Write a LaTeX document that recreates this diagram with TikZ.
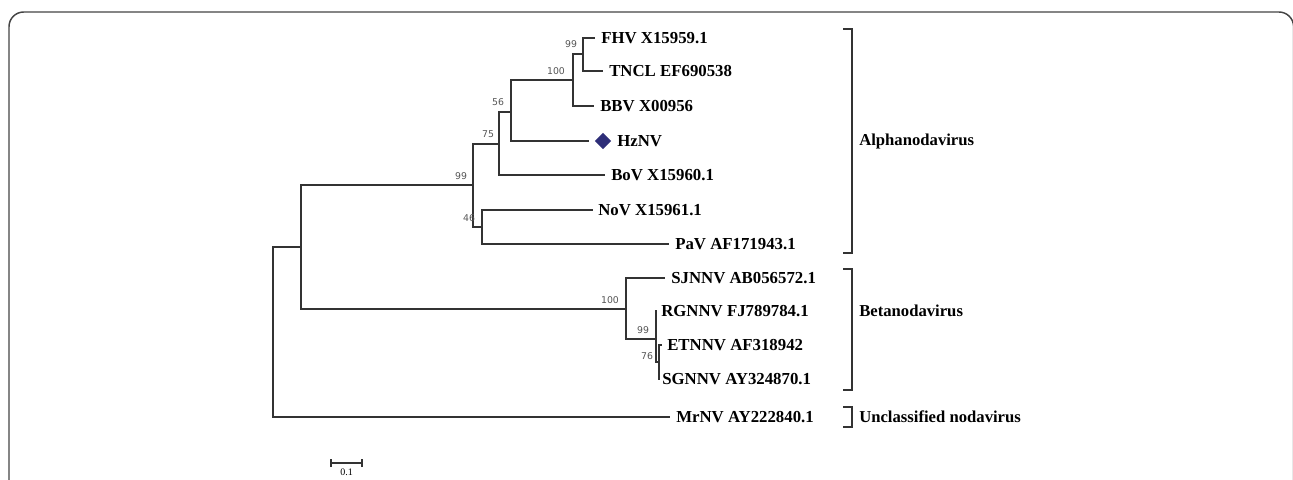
\documentclass[tikz,border=0pt]{standalone}
\usepackage{fontspec}
\setmainfont{Liberation Serif}
\newfontfamily\bsfont{DejaVu Sans}
\usetikzlibrary{shapes.geometric}
\definecolor{treeline}{HTML}{333333}
\definecolor{framecol}{HTML}{444444}
\definecolor{bscol}{HTML}{555555}
\definecolor{navy}{HTML}{2E2E78}
\tikzset{
  branch/.style={draw=treeline, line width=1pt},
  leaflab/.style={anchor=west, inner sep=0pt, font=\bfseries\fontsize{12.6}{14}\selectfont},
  bslab/.style={inner sep=0pt, text=bscol, font=\bsfont\fontsize{7}{8}\selectfont},
  grouplab/.style={anchor=west, inner sep=0pt, font=\bfseries\fontsize{12.5}{14}\selectfont},
  brkt/.style={draw=treeline, line width=1pt},
  marker/.style={diamond, fill=navy, draw=none, inner sep=0pt, minimum width=12.5pt, minimum height=12.5pt}
}
\begin{document}
\begin{tikzpicture}[x=0.75pt,y=-0.75pt]
\useasboundingbox (0,0) rectangle (1293,479);
% frame
\draw[framecol, line width=1.1pt, rounded corners=11pt] (9,12) rectangle (1293.6,520);

% internal nodes (x of vertical, y of incoming branch)
\coordinate (root) at (273,332);
\coordinate (nAB) at (301,247);
\coordinate (nA99) at (473,185);
\coordinate (n75) at (499,144);
\coordinate (n56) at (511,112);
\coordinate (n100) at (573,80);
\coordinate (n99a) at (583,54);
\coordinate (n46) at (482,227);
\coordinate (nB100) at (626,309);
\coordinate (nB99) at (656,339);
\coordinate (nB76) at (659,362);

% leaf tips
\coordinate (tFHV) at (595,38);
\coordinate (tTNCL) at (603,71);
\coordinate (tBBV) at (594,106);
\coordinate (tHz) at (589,141);
\coordinate (tBoV) at (605,175);
\coordinate (tNoV) at (593,210);
\coordinate (tPaV) at (669,244);
\coordinate (tSJ) at (665,278);
\coordinate (tRG) at (656.5,311);
\coordinate (tET) at (662,345);
\coordinate (tSG) at (659.5,379);
\coordinate (tMr) at (670,417);

% leaf labels
\node[leaflab] (FHV) at (601,38) {FHV X15959.1};
\node[leaflab] (TNCL) at (609,71) {TNCL EF690538};
\node[leaflab] (BBV) at (600,106) {BBV X00956};
\node[marker] (hzd) at (603,141) {};
\node[leaflab] (HzNV) at (617,141) {HzNV};
\node[leaflab] (BoV) at (611,175) {BoV X15960.1};
\node[leaflab] (NoV) at (598,210) {NoV X15961.1};
\node[leaflab] (PaV) at (675,244) {PaV AF171943.1};
\node[leaflab] (SJ) at (671,278) {SJNNV AB056572.1};
\node[leaflab] (RG) at (661,311) {RGNNV FJ789784.1};
\node[leaflab] (ET) at (667,345) {ETNNV AF318942};
\node[leaflab] (SG) at (662,379) {SGNNV AY324870.1};
\node[leaflab] (Mr) at (676,417) {MrNV AY222840.1};

% branches
\draw[branch] (root) |- (nAB);
\draw[branch] (root) |- (tMr);
\draw[branch] (nAB) |- (nA99);
\draw[branch] (nAB) |- (nB100);
\draw[branch] (nA99) |- (n75);
\draw[branch] (nA99) |- (n46);
\draw[branch] (n75) |- (n56);
\draw[branch] (n75) |- (tBoV);
\draw[branch] (n56) |- (n100);
\draw[branch] (n56) |- (tHz);
\draw[branch] (n100) |- (n99a);
\draw[branch] (n100) |- (tBBV);
\draw[branch] (n99a) |- (tFHV);
\draw[branch] (n99a) |- (tTNCL);
\draw[branch] (n46) |- (tNoV);
\draw[branch] (n46) |- (tPaV);
\draw[branch] (nB100) |- (tSJ);
\draw[branch] (nB100) |- (nB99);
\draw[branch] (nB99) |- (tRG);
\draw[branch] (nB99) |- (nB76);
\draw[branch] (nB76) |- (tET);
\draw[branch] (nB76) |- (tSG);

% bootstrap values
\node[bslab] (b1) at (571,44) {99};
\node[bslab] (b2) at (556,71) {100};
\node[bslab] (b3) at (498,102) {56};
\node[bslab] (b4) at (488,134) {75};
\node[bslab] (b5) at (461,176) {99};
\node[bslab] (b6) at (469,218) {46};
\node[bslab] (b7) at (610,300) {100};
\node[bslab] (b8) at (643,330) {99};
\node[bslab] (b9) at (647,356) {76};

% group brackets
\coordinate (aTop) at (843,29);
\coordinate (aBot) at (843,253);
\draw[brkt] (aTop) -| (852,141) |- (aBot);
\node[grouplab] (alpha) at (859,141) {Alphanodavirus};
\coordinate (bTop) at (843,269);
\coordinate (bBot) at (843,390);
\draw[brkt] (bTop) -| (852,330) |- (bBot);
\node[grouplab] (beta) at (859,311) {Betanodavirus};
\coordinate (uTop) at (843,407);
\coordinate (uBot) at (843,427);
\draw[brkt] (uTop) -| (852,417) |- (uBot);
\node[grouplab] (uncl) at (859,417) {Unclassified nodavirus};

% scale bar
\coordinate (s1) at (331,463);
\coordinate (s2) at (362,463);
\draw[branch] (s1) -- (s2);
\draw[branch] ([yshift=-3pt]s1) -- ([yshift=3pt]s1);
\draw[branch] ([yshift=-3pt]s2) -- ([yshift=3pt]s2);
\node[inner sep=0pt, anchor=north, font=\fontsize{7.5}{8}\selectfont] (slab) at (346.5,469) {0.1};
\end{tikzpicture}
\end{document}
